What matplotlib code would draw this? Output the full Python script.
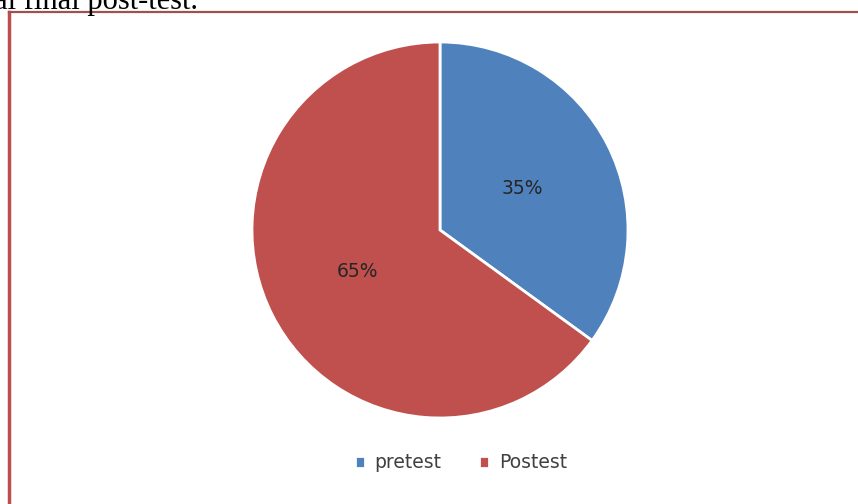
import matplotlib
matplotlib.use("Agg")
import matplotlib.pyplot as plt
from matplotlib.lines import Line2D

categories = ["pretest", "Postest"]
values = [35, 65]
colors = ["#4F81BD", "#C0504D"]

W, H = 858, 504
fig = plt.figure(figsize=(W / 100, H / 100), dpi=100)
fig.patch.set_facecolor("white")

# cropped caption text at top
fig.text(198 / W, 1 - 9 / H, "al final post-test.", ha="right", va="baseline",
         fontsize=22, family="Liberation Serif", color="black")

# frame
fig.add_artist(Line2D([8.5 / W, 8.5 / W], [0, 1 - 12 / H], color="#B9504E", lw=2.5,
                      transform=fig.transFigure))
fig.add_artist(Line2D([8.5 / W, 857 / W], [1 - 12 / H, 1 - 12 / H], color="#A0504F", lw=1.6,
                      transform=fig.transFigure))

cx, cy, r = 440, 230, 188
ax = fig.add_axes([(cx - r) / W, (H - cy - r) / H, 2 * r / W, 2 * r / H])
wedges, texts, autotexts = ax.pie(values, colors=colors, startangle=90, counterclock=False,
                                  autopct="%d%%", pctdistance=0.49,
                                  wedgeprops=dict(edgecolor="white", linewidth=2),
                                  textprops=dict(fontsize=13.5, color="#262626"))
ax.set_xlim(-1.0, 1.0)
ax.set_ylim(-1.0, 1.0)
ax.axis("off")
for w in wedges:
    w.set_clip_on(False)

leg = fig.legend(wedges, categories, loc="center", bbox_to_anchor=(461 / W, 1 - 463 / H),
                 ncol=2, frameon=False, fontsize=13.5, handlelength=0.55, handleheight=0.55,
                 handletextpad=0.5, columnspacing=2.0)
for t in leg.get_texts():
    t.set_color("#404040")

fig.savefig("out.png", dpi=100)
